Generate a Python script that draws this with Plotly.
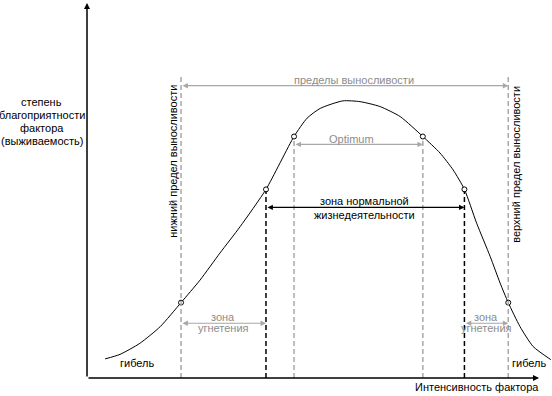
import plotly.graph_objects as go

# ---- data (intensity of factor on x, survival on y; axis origin = 0,0) ----
curve_x = [4.0, 7.3, 11.7, 16.2, 20.8, 25.0, 29.4, 33.9, 39.6, 45.8, 48.7, 51.6,
           56.6, 60.4, 64.8, 69.3, 74.3, 78.1, 81.0, 83.5, 86.2, 89.2, 91.4, 93.2,
           95.8, 98.7, 102.6]
curve_y = [5.1, 6.3, 9.25, 13.7, 20.1, 26.1, 33.3, 40.4, 50.3, 64.4, 69.3, 71.9,
           73.9, 73.7, 72.4, 69.7, 64.4, 60.0, 55.5, 50.3, 41.3, 32.4, 25.3, 20.1,
           13.7, 8.4, 4.9]

# key points on the curve
tol_x = [20.8, 93.2]          # limits of tolerance
tol_y = [20.1, 20.1]
norm_x = [39.6, 83.5]         # zone of normal life activity
norm_y = [50.3, 50.3]
opt_x = [45.8, 74.3]          # optimum
opt_y = [64.4, 64.4]

y_label_lines = ["степень", "благоприятности", "фактора", "(выживаемость)"]
x_label = "Интенсивность фактора"
lower_label = "нижний предел выносливости"
upper_label = "верхний предел выносливости"
tol_label = "пределы выносливости"
opt_label = "Optimum"
norm_label = ["зона нормальной", "жизнедеятельности"]
opp_label = ["зона", "угнетения"]
death_label = "гибель"

GRAY_LINE = "#a8a8a8"
GRAY_TEXT = "#8c8c8c"
BLACK = "#000000"
FONT = "Liberation Sans, Arial, sans-serif"

W, H = 552, 396
ox, oy = 87, 378          # pixel of axis origin
sx, sy = 4.52, 3.75       # pixels per data unit
xr = [-ox / sx, (W - ox) / sx]
yr = [(oy - H) / sy, oy / sy]

fig = go.Figure()

# curve
fig.add_trace(go.Scatter(x=curve_x, y=curve_y, mode="lines",
                         line=dict(color=BLACK, width=1, shape="spline", smoothing=0.6),
                         hoverinfo="skip"))

shapes = []
for xv in tol_x:
    shapes.append(dict(type="line", x0=xv, x1=xv, y0=0, y1=80.5, xref="x", yref="y",
                       line=dict(color=GRAY_LINE, width=1.5, dash="5px,3px")))
for xv, yv in zip(opt_x, opt_y):
    shapes.append(dict(type="line", x0=xv, x1=xv, y0=0, y1=yv - 1.2, xref="x", yref="y",
                       line=dict(color=GRAY_LINE, width=1.5, dash="5px,3px")))
for xv, yv in zip(norm_x, norm_y):
    shapes.append(dict(type="line", x0=xv, x1=xv, y0=0, y1=yv - 0.5, xref="x", yref="y",
                       line=dict(color=BLACK, width=1.5, dash="5px,3px")))
fig.update_layout(shapes=shapes)

# circle markers
fig.add_trace(go.Scatter(x=tol_x + norm_x + opt_x, y=tol_y + norm_y + opt_y, mode="markers",
                         marker=dict(symbol="circle", size=5, color="white",
                                     line=dict(color=BLACK, width=1)),
                         hoverinfo="skip"))

ann = []

def arrow(x0, y0, x1, y1, color, width=1.0, both=False, size=1.0):
    ann.append(dict(x=x1, y=y1, ax=x0, ay=y0, xref="x", yref="y", axref="x", ayref="y",
                    text="", showarrow=True, arrowhead=2, startarrowhead=2,
                    arrowside="end+start" if both else "end",
                    arrowsize=size, startarrowsize=size, arrowwidth=width,
                    arrowcolor=color, standoff=0, startstandoff=0))

def text(x, y, s, color=BLACK, size=11, angle=0, xanchor="center"):
    ann.append(dict(x=x, y=y, xref="x", yref="y", text=s, showarrow=False,
                    textangle=angle, xanchor=xanchor, yanchor="middle",
                    font=dict(family=FONT, size=size, color=color)))

# axes with arrowheads
arrow(0, 0, 0, 100, BLACK, width=1.5, size=0.8)
arrow(0, 0, 100, 0, BLACK, width=1.5, size=0.8)

# range arrows
arrow(tol_x[0], 77.95, tol_x[1], 77.95, GRAY_LINE, width=1.2, both=True, size=0.9)
arrow(opt_x[0], 62.3, opt_x[1], 62.3, GRAY_LINE, width=1.2, both=True, size=0.9)
arrow(norm_x[0], 45.5, norm_x[1], 45.5, BLACK, width=1.2, both=True, size=0.9)
arrow(tol_x[0], 14.6, norm_x[0], 14.6, GRAY_LINE, width=1.2, both=True, size=0.9)
arrow(norm_x[1], 14.6, tol_x[1], 14.6, GRAY_LINE, width=1.2, both=True, size=0.9)

# labels
for i, s in enumerate(y_label_lines):
    text(-9.96, 73.6 - i * 3.47, s)
text(86.3, -2.4, x_label)
text(59.1, 79.5, tol_label, color=GRAY_TEXT)
text(58.6, 63.7, opt_label, color=GRAY_TEXT)
text(61.5, 47.1, norm_label[0])
text(61.5, 43.6, norm_label[1])
text(30.1, 16.4, opp_label[0], color=GRAY_TEXT)
text(30.1, 13.4, opp_label[1], color=GRAY_TEXT)
text(88.3, 16.4, opp_label[0], color=GRAY_TEXT)
text(88.3, 13.4, opp_label[1], color=GRAY_TEXT)
text(11.1, 4.0, death_label)
text(93.5, 4.0, death_label, xanchor="left")
text(19.0, 57.9, lower_label, angle=-90)
text(94.9, 57.1, upper_label, angle=-90)

fig.update_layout(annotations=ann)

fig.update_layout(
    width=W, height=H, margin=dict(l=0, r=0, t=0, b=0),
    paper_bgcolor="white", plot_bgcolor="white", showlegend=False,
    hovermode=False,
    xaxis=dict(range=xr, visible=False, fixedrange=True),
    yaxis=dict(range=yr, visible=False, fixedrange=True),
)

fig.write_html("out.html", config={"displayModeBar": False, "staticPlot": True},
               post_script="document.body.style.margin='0';document.body.style.overflow='hidden';")
